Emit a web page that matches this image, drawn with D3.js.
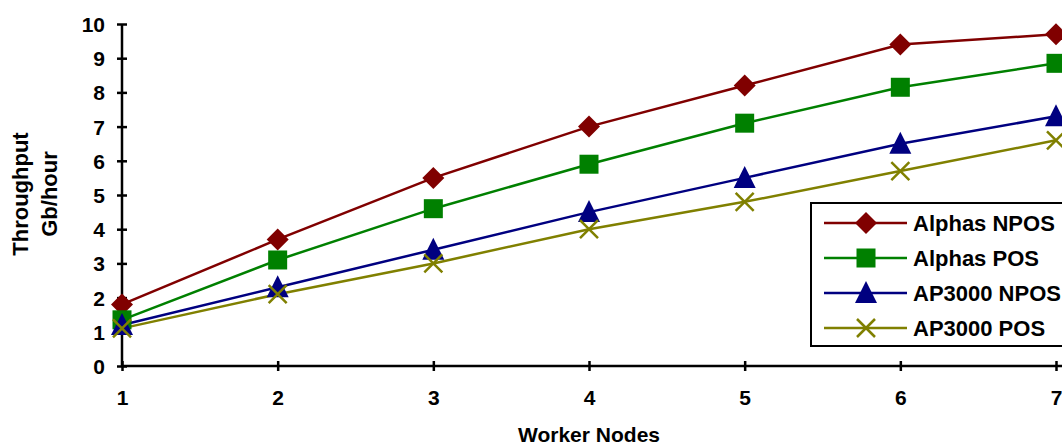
<!DOCTYPE html>
<html>
<head>
<meta charset="utf-8">
<script src="https://cdn.jsdelivr.net/npm/d3@7"></script>
<style>
  body { margin: 0; background: #fff; }
  text { font-family: "Liberation Sans", Arial, sans-serif; font-weight: bold; fill: #000; }
</style>
</head>
<body>
<svg id="chart" width="1062" height="448"></svg>
<script>
// worker node counts on the x axis
const nodes = [1, 2, 3, 4, 5, 6, 7];
const yTicks = [0, 1, 2, 3, 4, 5, 6, 7, 8, 9, 10];

// throughput per series (Gb/hour)
const alphasNpos = [1.8, 3.7, 5.5, 7.0, 8.2, 9.4, 9.7];
const alphasPos = [1.35, 3.1, 4.6, 5.9, 7.1, 8.15, 8.85];
const ap3000Npos = [1.2, 2.3, 3.4, 4.5, 5.5, 6.5, 7.3];
const ap3000Pos = [1.1, 2.1, 3.0, 4.0, 4.8, 5.7, 6.6];

const seriesNames = ["Alphas NPOS", "Alphas POS", "AP3000 NPOS", "AP3000 POS"];

const series = [
    { name: seriesNames[0], values: alphasNpos, color: "#800000", marker: "diamond" },
    { name: seriesNames[1], values: alphasPos, color: "#008000", marker: "square" },
    { name: seriesNames[2], values: ap3000Npos, color: "#000080", marker: "triangle" },
    { name: seriesNames[3], values: ap3000Pos, color: "#808000", marker: "cross" }
];

const svg = d3.select("#chart");

const x = d3.scaleLinear().domain([1, 7]).range([122, 1056]);
const y = d3.scaleLinear().domain([0, 10]).range([366, 24]);

// y axis
const yAxis = svg.append("g")
    .attr("transform", `translate(${x(1)},0)`)
    .call(d3.axisLeft(y).tickValues(yTicks).tickSize(5).tickPadding(10).tickFormat(d3.format("d")));
yAxis.select(".domain").attr("stroke", "#000").attr("stroke-width", 2.5).attr("d", `M0,${y(10)}V${y(0)}`);
yAxis.selectAll(".tick line").attr("stroke", "#000").attr("stroke-width", 2.5).attr("x1", 5).attr("x2", -5);
yAxis.selectAll(".tick text").style("font-size", "21px").attr("x", -17).attr("dy", "0.36em");

// x axis
const xAxis = svg.append("g")
    .attr("transform", `translate(0,${y(0)})`)
    .call(d3.axisBottom(x).tickValues(nodes).tickSize(5).tickPadding(22).tickFormat(d3.format("d")));
xAxis.select(".domain").attr("stroke", "#000").attr("stroke-width", 2.5).attr("d", `M${x(1)},0H1062`);
xAxis.selectAll(".tick line").attr("stroke", "#000").attr("stroke-width", 2.5).attr("y1", -5).attr("y2", 5);
xAxis.selectAll(".tick text").style("font-size", "21px").attr("y", 24);

// axis titles
svg.append("text")
    .attr("x", 589).attr("y", 442)
    .attr("text-anchor", "middle")
    .style("font-size", "21px")
    .text("Worker Nodes");

const yTitle = svg.append("text")
    .attr("transform", "translate(0,194) rotate(-90)")
    .attr("text-anchor", "middle")
    .style("font-size", "22px");
yTitle.append("tspan").attr("x", 0).attr("y", 28).text("Throughput");
yTitle.append("tspan").attr("x", 0).attr("y", 57).text("Gb/hour");

// marker drawing
function drawMarker(g, type, color) {
    if (type === "diamond") {
        g.append("path").attr("d", "M0,-11L11,0L0,11L-11,0Z").attr("fill", color);
    } else if (type === "square") {
        g.append("rect").attr("x", -9.5).attr("y", -9.5).attr("width", 19).attr("height", 19).attr("fill", color);
    } else if (type === "triangle") {
        g.append("path").attr("d", "M0,-12L11,10L-11,10Z").attr("fill", color);
    } else {
        g.append("path").attr("d", "M-9,-9L9,9M-9,9L9,-9")
            .attr("stroke", color).attr("stroke-width", 2.5).attr("fill", "none");
    }
}

const line = d3.line()
    .x((d, i) => x(nodes[i]))
    .y(d => y(d));

series.forEach(s => {
    svg.append("path")
        .datum(s.values)
        .attr("fill", "none")
        .attr("stroke", s.color)
        .attr("stroke-width", 2.5)
        .attr("d", line);
});

series.forEach(s => {
    s.values.forEach((v, i) => {
        const g = svg.append("g").attr("transform", `translate(${x(nodes[i])},${y(v)})`);
        drawMarker(g, s.marker, s.color);
    });
});

// legend
const legend = svg.append("g");
legend.append("rect")
    .attr("x", 811).attr("y", 203)
    .attr("width", 270).attr("height", 143)
    .attr("fill", "#fff").attr("stroke", "#000").attr("stroke-width", 2);

const legendY = d3.scalePoint().domain(seriesNames).range([223, 328]);

series.forEach(s => {
    const ly = legendY(s.name);
    legend.append("line")
        .attr("x1", 824).attr("x2", 907).attr("y1", ly).attr("y2", ly)
        .attr("stroke", s.color).attr("stroke-width", 2.5);
    drawMarker(legend.append("g").attr("transform", `translate(866,${ly})`), s.marker, s.color);
    legend.append("text")
        .attr("x", 913).attr("y", ly + 8)
        .style("font-size", "22px")
        .text(s.name);
});
</script>
</body>
</html>
